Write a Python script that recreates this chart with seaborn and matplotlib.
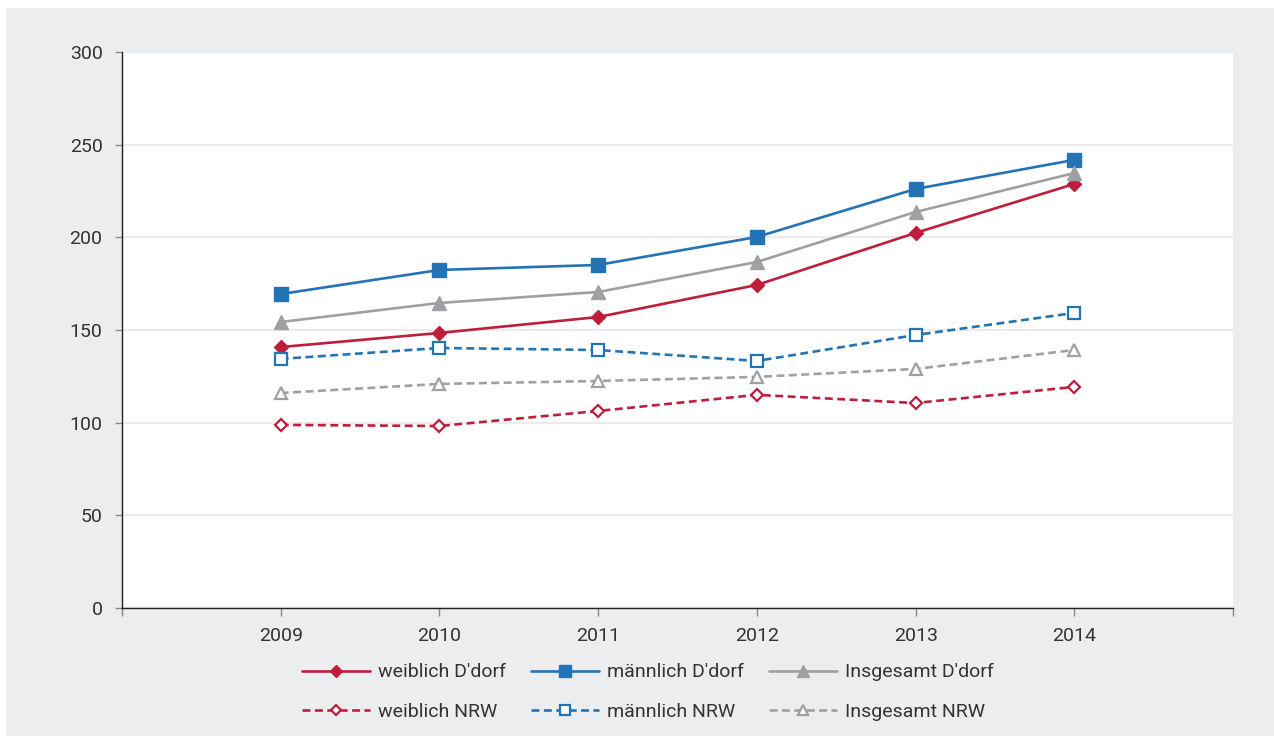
import matplotlib
matplotlib.use("Agg")
import matplotlib.pyplot as plt
from matplotlib.patches import Rectangle
import seaborn as sns
import pandas as pd

years = [2009, 2010, 2011, 2012, 2013, 2014]

weiblich_ddorf = [140.8, 148.4, 157.0, 174.3, 202.4, 228.8]
maennlich_ddorf = [169.4, 182.4, 185.1, 200.2, 226.1, 241.8]
insgesamt_ddorf = [154.3, 164.6, 170.5, 186.7, 213.7, 234.7]
weiblich_nrw = [98.8, 98.2, 106.3, 115.0, 110.6, 119.3]
maennlich_nrw = [134.4, 140.3, 139.2, 133.3, 147.3, 159.2]
insgesamt_nrw = [116.0, 120.9, 122.5, 124.7, 129.0, 139.2]

labels = ["weiblich D'dorf", "männlich D'dorf", "Insgesamt D'dorf",
          "weiblich NRW", "männlich NRW", "Insgesamt NRW"]

RED = "#BE1E3C"
BLUE = "#2373B5"
GREY = "#9EA0A3"
TEXT = "#333333"

sns.set_theme(style="white")
plt.rcParams["font.family"] = ["Roboto", "DejaVu Sans"]

fig = plt.figure(figsize=(12.74, 7.36), dpi=100, facecolor="white")
fig.patches.append(Rectangle((6 / 1274, 0), 1 - 6 / 1274, 1 - 8 / 736,
                             transform=fig.transFigure, facecolor="#ECEDEF",
                             edgecolor="none", zorder=-10))
ax = fig.add_axes([122 / 1274, 1 - 608 / 736, (1233 - 122) / 1274, (608 - 52) / 736])
ax.set_facecolor("white")

dash = (0, (3.0, 1.7))
series = [
    (weiblich_ddorf, labels[0], RED, "D", 7.5, "-", True),
    (maennlich_ddorf, labels[1], BLUE, "s", 9.5, "-", True),
    (insgesamt_ddorf, labels[2], GREY, "^", 10, "-", True),
    (weiblich_nrw, labels[3], RED, "D", 6, dash, False),
    (maennlich_nrw, labels[4], BLUE, "s", 8, dash, False),
    (insgesamt_nrw, labels[5], GREY, "^", 8.5, dash, False),
]

handles = {}
for values, name, color, marker, ms, ls, filled in series:
    df = pd.DataFrame({"Jahr": years, "Wert": values})
    sns.lineplot(data=df, x="Jahr", y="Wert", ax=ax, color=color, linewidth=1.9,
                 linestyle=ls, marker=marker, markersize=ms,
                 markerfacecolor=color if filled else "white",
                 markeredgecolor=color, markeredgewidth=1.0 if filled else 1.6,
                 label=name, legend=False)
    handles[name] = ax.lines[-1]

ax.set_xlim(2008, 2015)
ax.set_ylim(0, 300)
ax.set_xticks(range(2008, 2016))
ax.set_xticklabels([""] + [str(y) for y in years] + [""])
ax.set_yticks(range(0, 301, 50))
ax.set_xlabel("")
ax.set_ylabel("")

ax.yaxis.grid(True, color="#EBEBEB", linewidth=1.6)
ax.set_axisbelow(True)
for side in ["top", "right"]:
    ax.spines[side].set_visible(False)
for side in ["left", "bottom"]:
    ax.spines[side].set_color("#222222")
    ax.spines[side].set_linewidth(1.0)

ax.tick_params(axis="y", left=True, length=5, width=1.0, color="#888888",
               pad=9, labelsize=14, labelcolor=TEXT)
ax.tick_params(axis="x", bottom=True, length=6, width=1.0, color="#888888",
               pad=8, labelsize=14, labelcolor=TEXT)

order = [labels[0], labels[3], labels[1], labels[4], labels[2], labels[5]]
fig.legend([handles[n] for n in order], order, ncol=3, frameon=False,
           loc="center", bbox_to_anchor=(648 / 1274, 1 - 692 / 736),
           fontsize=14, handlelength=3.5, handletextpad=0.4,
           columnspacing=1.3, labelspacing=1.1, markerscale=0.85,
           labelcolor=TEXT)

fig.savefig("out.png", dpi=100, facecolor=fig.get_facecolor())
